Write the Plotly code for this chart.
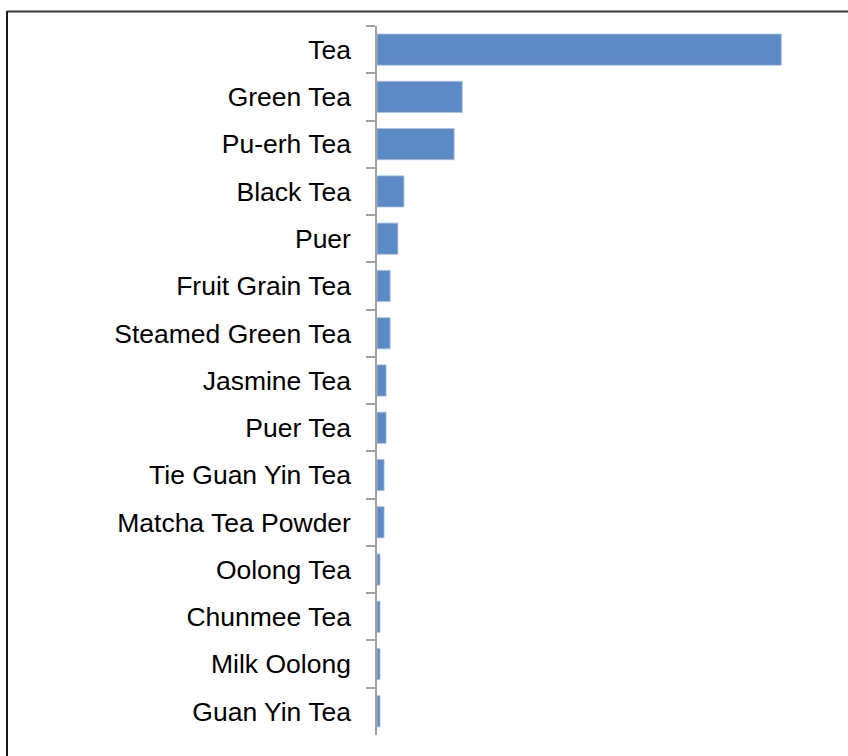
import plotly.graph_objects as go

categories = ["Tea", "Green Tea", "Pu-erh Tea", "Black Tea", "Puer", "Fruit Grain Tea",
              "Steamed Green Tea", "Jasmine Tea", "Puer Tea", "Tie Guan Yin Tea",
              "Matcha Tea Powder", "Oolong Tea", "Chunmee Tea", "Milk Oolong", "Guan Yin Tea"]
values = [120, 25.3, 22.9, 8, 6.2, 3.9, 3.9, 2.7, 2.7, 2.1, 2.1, 0.9, 0.9, 0.9, 0.9]

fig = go.Figure(go.Bar(
    x=values, y=categories, orientation="h",
    marker=dict(color="#5B8AC6", line=dict(color="#A9C1E3", width=0.8)),
))

fig.update_layout(
    width=848, height=756,
    margin=dict(l=377, r=33, t=26, b=21),
    paper_bgcolor="white", plot_bgcolor="white",
    bargap=0.34, showlegend=False,
    font=dict(family="Liberation Sans, Arial, sans-serif", size=26, color="black"),
    shapes=[
        dict(type="line", xref="paper", yref="paper", x0=-370/438, x1=1.2, y0=(735-11.5)/709, y1=(735-11.5)/709,
             line=dict(color="#3a3a3a", width=2)),
        dict(type="line", xref="paper", yref="paper", x0=-370/438, x1=-370/438, y0=(735-11)/709, y1=-0.1,
             line=dict(color="#1a1a1a", width=2)),
    ],
)
fig.update_xaxes(range=[0, 130], visible=False)
fig.update_yaxes(
    autorange="reversed", showline=True, linecolor="#a0a0a0", linewidth=1.5,
    ticks="outside", ticklen=9, tickcolor="#a0a0a0", tickwidth=1.5,
    tickson="boundaries", showgrid=False, ticklabelstandoff=19,
    tickfont=dict(size=26.5, color="black"),
)

fig.write_html("out.html", config={"displayModeBar": False},
               post_script="document.body.style.margin='0';document.body.style.overflow='hidden';")
